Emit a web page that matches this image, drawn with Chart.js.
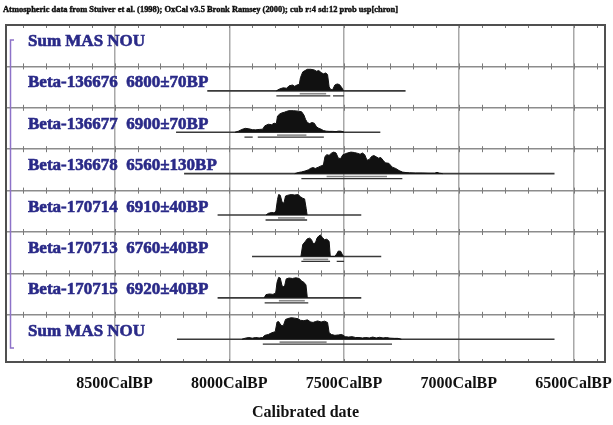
<!DOCTYPE html>
<html>
<head>
<meta charset="utf-8">
<script src="https://cdn.jsdelivr.net/npm/chart.js@4"></script>
<style>
  body { margin: 0; background: #fff; }
  canvas { display: block; }
</style>
</head>
<body>
<canvas id="chart" width="613" height="425"></canvas>
<script>
// row labels, top to bottom
var rowLabels = [
    'Sum MAS NOU',
    'Beta-136676  6800\u00b170BP',
    'Beta-136677  6900\u00b170BP',
    'Beta-136678  6560\u00b1130BP',
    'Beta-170714  6910\u00b140BP',
    'Beta-170713  6760\u00b140BP',
    'Beta-170715  6920\u00b140BP',
    'Sum MAS NOU'
];
var xTickValues = [8500, 8000, 7500, 7000, 6500];
var headerText = 'Atmospheric data from Stuiver et al. (1998); OxCal v3.5 Bronk Ramsey (2000); cub r:4 sd:12 prob usp[chron]';

// probability curves (cal BP, relative height)
var b136676Ages = [7795, 7780, 7765, 7750, 7740, 7725, 7715, 7705, 7695, 7690, 7680, 7670, 7660, 7645, 7630, 7620, 7610, 7600, 7590, 7580, 7572, 7565, 7558, 7550, 7540, 7530, 7520, 7510, 7502];
var b136676Dens = [0, .09, .14, .12, .23, .27, .21, .27, .30, .61, .88, .94, 1.0, 1.0, .97, .91, .94, .85, .79, .83, .76, .18, .06, .05, .27, .32, .29, .15, 0];

var b136677Ages = [7975, 7960, 7945, 7930, 7915, 7900, 7885, 7870, 7855, 7845, 7830, 7815, 7805, 7795, 7790, 7780, 7770, 7760, 7750, 7740, 7720, 7700, 7685, 7675, 7668, 7660, 7650, 7640, 7630, 7620, 7610, 7600, 7590, 7578, 7565, 7550, 7535, 7525, 7515, 7505, 7500];
var b136677Dens = [0, .05, .13, .18, .16, .12, .11, .13, .14, .30, .37, .35, .42, .40, .75, .85, .90, .93, .97, 1.0, 1.0, .98, .95, .80, .60, .45, .40, .45, .42, .25, .18, .14, .08, .05, .04, .04, .03, .05, .05, .03, 0];

var b136678Ages = [7715, 7700, 7685, 7670, 7655, 7645, 7635, 7625, 7612, 7600, 7590, 7583, 7575, 7565, 7555, 7545, 7535, 7525, 7515, 7505, 7495, 7485, 7470, 7455, 7440, 7430, 7420, 7410, 7400, 7390, 7380, 7370, 7360, 7350, 7340, 7330, 7320, 7305, 7290, 7275, 7260, 7245, 7230, 7215, 7190, 7160, 7130, 7105, 7095, 7085, 7070];
var b136678Dens = [0, .05, .08, .12, .18, .25, .28, .24, .30, .36, .40, .80, .88, .85, .95, 1.0, .96, .72, .70, .88, .92, .96, 1.0, .98, .94, .90, .96, .88, .62, .66, .80, .84, .78, .72, .75, .62, .50, .48, .30, .24, .14, .07, .05, .04, .03, .03, .02, .02, .06, .02, 0];

var b170714Ages = [7840, 7830, 7815, 7805, 7797, 7790, 7785, 7778, 7770, 7762, 7755, 7745, 7730, 7715, 7700, 7690, 7680, 7672, 7665, 7661];
var b170714Dens = [0, .08, .12, .10, .18, .72, .95, .92, .60, .55, .88, .92, .95, .93, .95, .85, .78, .75, .30, 0];

var b170713Ages = [7688, 7680, 7670, 7660, 7650, 7642, 7635, 7625, 7618, 7610, 7602, 7595, 7585, 7575, 7565, 7560, 7540, 7532, 7525, 7515, 7508, 7502];
var b170713Dens = [0, .55, .68, .82, .85, .78, .60, .62, .85, .95, 1.0, .88, .78, .80, .70, 0, 0, .12, .25, .24, .10, 0];

var b170715Ages = [7848, 7840, 7825, 7810, 7798, 7792, 7785, 7778, 7770, 7760, 7752, 7740, 7725, 7710, 7695, 7685, 7675, 7666, 7660];
var b170715Dens = [0, .15, .18, .16, .22, .72, .95, .92, .55, .50, .88, .92, .90, .93, .90, .78, .72, .60, 0];

var sumAges = [7945, 7930, 7915, 7900, 7885, 7870, 7855, 7845, 7830, 7815, 7800, 7792, 7785, 7775, 7765, 7755, 7745, 7730, 7715, 7700, 7690, 7675, 7660, 7645, 7635, 7625, 7615, 7600, 7585, 7572, 7565, 7555, 7540, 7525, 7510, 7495, 7480, 7465, 7450, 7435, 7420, 7405, 7390, 7375, 7360, 7345, 7330, 7315, 7300, 7280, 7265, 7250];
var sumDens = [0, .05, .08, .05, .08, .06, .08, .18, .22, .30, .35, .80, .82, .65, .62, .92, .96, 1.0, .98, .95, .88, .86, .90, .80, .78, .82, .85, .80, .84, .78, .30, .22, .18, .20, .22, .12, .10, .12, .08, .08, .06, .08, .06, .10, .06, .09, .06, .08, .05, .04, .04, 0];

// plotted span of each row and the 68% / 95% ranges
var spans = [null, [8096, 7232], [8232, 7342], [8197, 6583], [8051, 7425], [7901, 7338], [8051, 7425], [8228, 6583]];
var ranges95 = [null, [[7795, 7560], [7548, 7500]], [[7934, 7898], [7876, 7588]], [[7686, 7246]], [[7842, 7661]], [[7686, 7561], [7532, 7500]], [[7846, 7656]], [[7854, 7291]]];
var ranges68 = [null, [[7693, 7578]], [[7792, 7664]], [[7576, 7313]], [[7788, 7671]], [[7678, 7569]], [[7784, 7671]], [[7781, 7576]]];

var curves = [null,
    [b136676Ages, b136676Dens],
    [b136677Ages, b136677Dens],
    [b136678Ages, b136678Dens],
    [b170714Ages, b170714Dens],
    [b170713Ages, b170713Dens],
    [b170715Ages, b170715Dens],
    [sumAges, sumDens]
];

var nRows = rowLabels.length;
var peak = 0.52;

function baseOf(i) { return (nRows - 1 - i) + 0.41; }

var datasets = [];
for (var i = 1; i < nRows; i++) {
    var base = baseOf(i);
    var pts = curves[i][0].map(function(a, j) {
        return { x: a, y: base + curves[i][1][j] * peak };
    });
    datasets.push({
        data: pts,
        borderColor: '#111',
        borderWidth: 1,
        backgroundColor: '#111',
        fill: { value: base },
        pointRadius: 0,
        tension: 0
    });
    datasets.push({
        data: [{ x: spans[i][0], y: base }, { x: spans[i][1], y: base }],
        borderColor: '#3a3a3a',
        borderWidth: 1.6,
        pointRadius: 0,
        fill: false
    });
    var r95 = [];
    ranges95[i].forEach(function(r) {
        if (r95.length) r95.push({ x: (r95[r95.length - 1].x + r[0]) / 2, y: null });
        r95.push({ x: r[0], y: base - 0.12 }, { x: r[1], y: base - 0.12 });
    });
    datasets.push({ data: r95, borderColor: '#333', borderWidth: 1.3, pointRadius: 0, fill: false, spanGaps: false });
    var r68 = [];
    ranges68[i].forEach(function(r) {
        r68.push({ x: r[0], y: base - 0.07 }, { x: r[1], y: base - 0.07 });
    });
    datasets.push({ data: r68, borderColor: '#8a8a8a', borderWidth: 1.6, pointRadius: 0, fill: false });
}

var oxcalDecor = {
    id: 'oxcalDecor',
    afterDatasetsDraw: function(chart) {
        var ctx = chart.ctx;
        var ys = chart.scales.y;
        ctx.save();
        ctx.fillStyle = '#2a2a88';
        ctx.strokeStyle = '#2a2a88';
        ctx.lineWidth = 0.6;
        ctx.font = 'bold 17px "Liberation Serif", "Times New Roman", serif';
        ctx.textBaseline = 'middle';
        rowLabels.forEach(function(lbl, i) {
            var py = ys.getPixelForValue((nRows - 1 - i) + 0.6);
            ctx.fillText(lbl, 28, py);
            ctx.strokeText(lbl, 28, py);
        });
        ctx.restore();
    },
    afterDraw: function(chart) {
        var ctx = chart.ctx;
        var a = chart.chartArea;
        var xs = chart.scales.x;
        var ys = chart.scales.y;
        ctx.save();
        // minor ticks every 100 years on each row line
        ctx.strokeStyle = '#7a7a7a';
        ctx.lineWidth = 1;
        var lines = [a.top, a.bottom];
        for (var k = 1; k < nRows; k++) lines.push(ys.getPixelForValue(k));
        for (var v = 6400; v <= 8900; v += 100) {
            var px = Math.round(xs.getPixelForValue(v)) + 0.5;
            lines.forEach(function(py) {
                ctx.beginPath();
                ctx.moveTo(px, py === a.top ? py : py - 3);
                ctx.lineTo(px, py === a.bottom ? py : py + 3);
                ctx.stroke();
            });
        }
        // frame
        ctx.strokeStyle = '#505050';
        ctx.lineWidth = 2;
        ctx.strokeRect(a.left, a.top, a.right - a.left, a.bottom - a.top);
        // group bracket
        ctx.strokeStyle = '#8d72c8';
        ctx.lineWidth = 1.5;
        ctx.beginPath();
        ctx.moveTo(14, 40);
        ctx.lineTo(10.5, 40);
        ctx.lineTo(10.5, 348);
        ctx.lineTo(14, 348);
        ctx.stroke();
        // header
        ctx.fillStyle = '#111';
        ctx.strokeStyle = '#111';
        ctx.lineWidth = 0.4;
        ctx.font = 'bold 8px "Liberation Serif", serif';
        ctx.textBaseline = 'middle';
        var w = ctx.measureText(headerText).width;
        ctx.translate(3, 10);
        ctx.scale(395 / w, 1);
        ctx.fillText(headerText, 0, 0);
        ctx.strokeText(headerText, 0, 0);
        ctx.restore();
    }
};

new Chart(document.getElementById('chart').getContext('2d'), {
    type: 'line',
    data: { datasets: datasets },
    options: {
        responsive: false,
        animation: false,
        layout: { padding: { left: 6, right: 8, top: 25, bottom: 0 } },
        plugins: { legend: { display: false }, tooltip: { enabled: false } },
        scales: {
            x: {
                type: 'linear',
                reverse: true,
                min: 6363,
                max: 8973,
                afterBuildTicks: function(scale) {
                    scale.ticks = xTickValues.map(function(v) { return { value: v }; });
                },
                afterFit: function(scale) {
                    scale.height = 63;
                    scale.paddingLeft = 0;
                    scale.paddingRight = 0;
                },
                border: { display: false },
                grid: { color: '#a8a8a8', lineWidth: 1.5, drawTicks: false },
                ticks: {
                    autoSkip: false,
                    maxRotation: 0,
                    padding: 12,
                    color: '#111',
                    font: { family: '"Liberation Serif", serif', size: 16, weight: 'bold' },
                    callback: function(v) { return v + 'CalBP'; }
                },
                title: {
                    display: true,
                    text: 'Calibrated date',
                    color: '#111',
                    font: { family: '"Liberation Serif", serif', size: 16, weight: 'bold' },
                    padding: { top: 0, bottom: 3 }
                }
            },
            y: {
                type: 'linear',
                min: -0.14,
                max: nRows,
                afterBuildTicks: function(scale) {
                    var t = [];
                    for (var k = 1; k < nRows; k++) t.push({ value: k });
                    scale.ticks = t;
                },
                afterFit: function(scale) {
                    scale.width = 0;
                    scale.paddingTop = 0;
                    scale.paddingBottom = 0;
                },
                border: { display: false },
                grid: { color: '#8c8c8c', lineWidth: 1.6, drawTicks: false },
                ticks: { display: false }
            }
        }
    },
    plugins: [oxcalDecor]
});
</script>
</body>
</html>
